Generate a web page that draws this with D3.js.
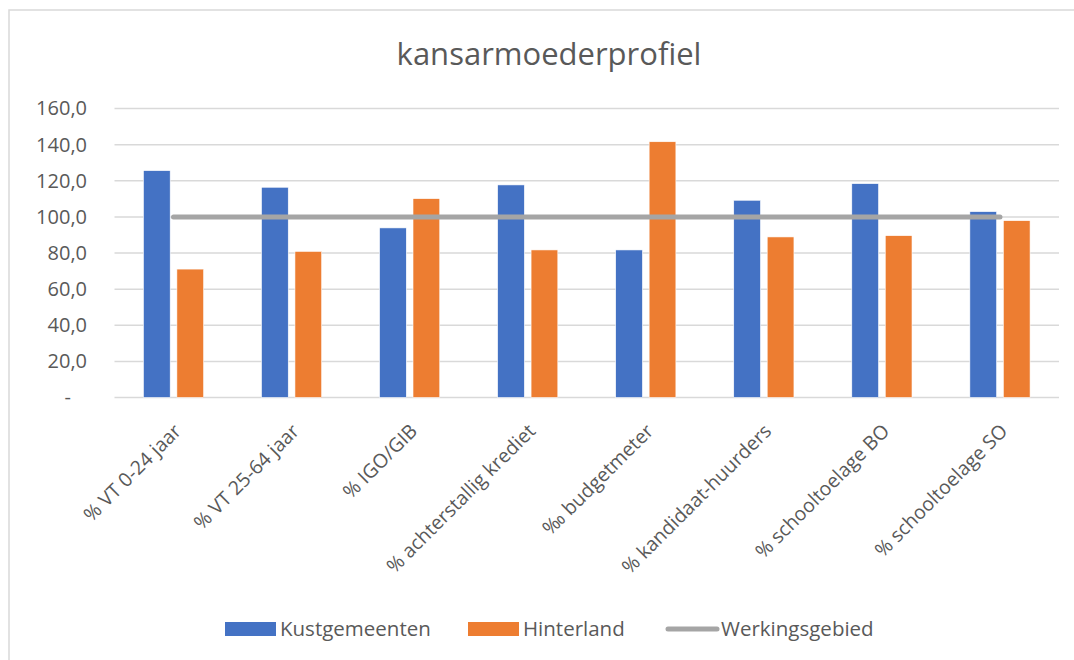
<!DOCTYPE html>
<html>
<head>
<meta charset="utf-8">
<script src="https://cdn.jsdelivr.net/npm/d3@7"></script>
<style>
  body { margin: 0; background: #fff; }
  text { font-family: "Open Sans", "Noto Sans", sans-serif; fill: #595959; }
</style>
</head>
<body>
<script>
// data
const categories = [
  '% VT 0-24 jaar', '% VT 25-64 jaar', '% IGO/GIB', '% achterstallig krediet',
  '‰ budgetmeter', '% kandidaat-huurders', '% schooltoelage BO', '% schooltoelage SO'
];
const kustgemeenten = [125.6, 116.4, 93.9, 117.7, 81.7, 109.2, 118.4, 102.9];
const hinterland = [71.1, 80.9, 110.1, 81.7, 141.6, 88.9, 89.6, 97.9];
const werkingsgebied = [100, 100, 100, 100, 100, 100, 100, 100];
const yTicks = [0, 20, 40, 60, 80, 100, 120, 140, 160];
const seriesNames = ['Kustgemeenten', 'Hinterland', 'Werkingsgebied'];
const colors = ['#4472c4', '#ed7d31', '#a5a5a5'];

const w = 1074, h = 660;
const m = { left: 114.5, right: 15, top: 108.5, bottom: 262.5 };

const svg = d3.select('body').append('svg')
  .attr('width', w).attr('height', h);

// chart border (right and bottom edges fall outside the picture)
svg.append('rect')
  .attr('x', 9).attr('y', 10)
  .attr('width', w).attr('height', h)
  .attr('fill', 'none').attr('stroke', '#d9d9d9').attr('stroke-width', 1.5);

// title
svg.append('text')
  .attr('x', 549).attr('y', 65)
  .attr('text-anchor', 'middle')
  .style('font-size', '31px')
  .text('kansarmoederprofiel');

const x0 = d3.scaleBand()
  .domain(categories)
  .range([m.left, w - m.right])
  .paddingInner(0.49).paddingOuter(0.245);

const x1 = d3.scaleBand()
  .domain([0, 1])
  .range([0, x0.bandwidth()])
  .paddingInner(0.2);

const y = d3.scaleLinear()
  .domain([0, 160])
  .range([h - m.bottom, m.top]);

// gridlines
svg.append('g')
  .selectAll('line')
  .data(yTicks)
  .join('line')
  .attr('x1', m.left).attr('x2', w - m.right)
  .attr('y1', d => y(d)).attr('y2', d => y(d))
  .attr('stroke', '#d9d9d9').attr('stroke-width', 1.5);

// y axis labels
const yAxis = d3.axisLeft(y)
  .tickValues(yTicks)
  .tickSize(0)
  .tickPadding(0)
  .tickFormat(d => d === 0 ? '-' : d3.format('.1f')(d).replace('.', ','));

svg.append('g')
  .attr('transform', `translate(${87},0)`)
  .call(yAxis)
  .call(g => g.select('.domain').remove())
  .call(g => g.selectAll('text')
    .style('font-size', '20px')
    .style('font-family', '"Open Sans", sans-serif')
    .attr('fill', '#595959')
    .attr('dx', d => d === 0 ? -16 : 0));

// bars
const table = categories.map((c, i) => ({ c, v: [kustgemeenten[i], hinterland[i]] }));

const groups = svg.append('g')
  .selectAll('g')
  .data(table)
  .join('g')
  .attr('transform', d => `translate(${x0(d.c)},0)`);

groups.selectAll('rect')
  .data(d => d.v)
  .join('rect')
  .attr('x', (d, i) => x1(i))
  .attr('width', x1.bandwidth())
  .attr('y', d => y(d))
  .attr('height', d => y(0) - y(d))
  .attr('fill', (d, i) => colors[i])
  .attr('stroke', '#fff')
  .attr('stroke-width', 0.6);

// reference line
const line = d3.line()
  .x((d, i) => x0(categories[i]) + x0.bandwidth() / 2)
  .y(d => y(d));

svg.append('path')
  .datum(werkingsgebied)
  .attr('d', line)
  .attr('fill', 'none')
  .attr('stroke', colors[2])
  .attr('stroke-width', 5)
  .attr('stroke-linecap', 'round');

// category labels
svg.append('g')
  .selectAll('text')
  .data(categories)
  .join('text')
  .attr('transform', d => `translate(${x0(d) + x0.bandwidth() / 2 + 4},${y(0) + 30}) rotate(-45)`)
  .attr('text-anchor', 'end')
  .attr('dy', '0.35em')
  .style('font-size', '19.5px')
  .text(d => d);

// legend
const legend = [
  { name: seriesNames[0], x: 225, type: 'rect' },
  { name: seriesNames[1], x: 468, type: 'rect' },
  { name: seriesNames[2], x: 666, type: 'line' }
];
const ly = 629;
const lg = svg.append('g');
legend.forEach((d, i) => {
  if (d.type === 'rect') {
    lg.append('rect')
      .attr('x', d.x).attr('y', ly - 7)
      .attr('width', 51).attr('height', 14)
      .attr('fill', colors[i]);
  } else {
    lg.append('line')
      .attr('x1', d.x + 2).attr('x2', d.x + 51)
      .attr('y1', ly).attr('y2', ly)
      .attr('stroke', colors[i]).attr('stroke-width', 5)
      .attr('stroke-linecap', 'round');
  }
  lg.append('text')
    .attr('x', d.x + 55).attr('y', ly)
    .attr('dy', '0.35em')
    .style('font-size', '20.5px')
    .text(d.name);
});
</script>
</body>
</html>
